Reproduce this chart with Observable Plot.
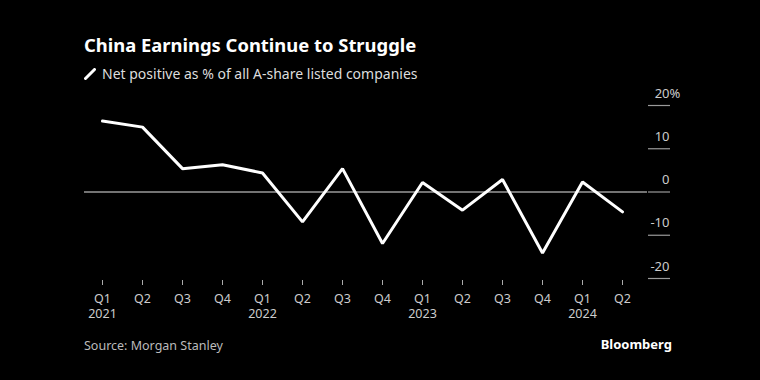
<!DOCTYPE html>
<html>
<head>
<meta charset="utf-8">
<script src="https://cdn.jsdelivr.net/npm/d3@7"></script>
<script src="https://cdn.jsdelivr.net/npm/@observablehq/plot@0.6"></script>
<style>
  html, body { margin: 0; padding: 0; background: #000; width: 760px; height: 380px; overflow: hidden; }
  body { position: relative; font-family: "Noto Sans", "DejaVu Sans", sans-serif; }
  #title { position: absolute; left: 84px; top: 32px; color: #fff; font-weight: 700; font-size: 18.4px; }
  #subtitle { position: absolute; left: 84px; top: 64px; color: #ddd; font-size: 14px; display: flex; align-items: center; }
  #subtitle svg { margin-right: 6px; }
  #chart { position: absolute; left: 0; top: 85px; }
  #source { position: absolute; left: 84px; top: 337px; color: #bbb; font-size: 12.5px; }
  #logo { position: absolute; right: 88px; top: 335px; color: #fff; font-weight: 700; font-size: 13px; }
</style>
</head>
<body>
<div id="title">China Earnings Continue to Struggle</div>
<div id="subtitle"><svg width="12" height="12"><line x1="1.5" y1="10.5" x2="10.5" y2="1.5" stroke="#fff" stroke-width="3" stroke-linecap="round"/></svg>Net positive as % of all A-share listed companies</div>
<div id="chart"></div>
<div id="source">Source: Morgan Stanley</div>
<div id="logo">Bloomberg</div>
<script>
const quarters = ["Q1 2021","Q2 2021","Q3 2021","Q4 2021","Q1 2022","Q2 2022","Q3 2022","Q4 2022","Q1 2023","Q2 2023","Q3 2023","Q4 2023","Q1 2024","Q2 2024"];
const netPositive = [16.4, 15.0, 5.4, 6.3, 4.4, -6.9, 5.4, -11.9, 2.2, -4.2, 2.9, -14.1, 2.3, -4.6];
const yTicks = [-20, -10, 0, 10, 20];
const yTickLabels = ["-20", "-10", "0", "10", "20"];

const data = quarters.map((q, i) => ({q, v: netPositive[i]}));

const chart = Plot.plot({
  width: 760,
  height: 238,
  marginLeft: 84,
  marginRight: 113,
  marginTop: 20,
  marginBottom: 45,
  style: { background: "transparent", fontFamily: "'Noto Sans', 'DejaVu Sans', sans-serif", fontSize: "12.5px" },
  x: { type: "point", domain: quarters, padding: 0, insetLeft: 13, insetRight: 21 },
  y: { domain: [-20, 20] },
  marks: [
    Plot.ruleY([0], { stroke: "#9a9a9a", strokeWidth: 1.5 }),
    Plot.axisY(yTicks, {
      anchor: "right", tickSize: 22, tickFormat: () => "", stroke: "#9a9a9a", strokeWidth: 1.2, label: null
    }),
    Plot.text(yTicks, { y: d => d, text: (d, i) => yTickLabels[i], frameAnchor: "right", dx: 22, dy: -12, textAnchor: "end", fill: "#ccc", fontSize: 13 }),
    Plot.text([20], { y: d => d, text: () => "%", frameAnchor: "right", dx: 22, dy: -12, textAnchor: "start", fill: "#ccc", fontSize: 13 }),
    Plot.axisX({
      tickSize: 5, tickPadding: 6, stroke: "#aaa", fill: "#ccc", label: null, fontSize: 12.5, lineHeight: 1.25, dy: 2,
      tickFormat: d => { const [q, y] = d.split(" "); return q === "Q1" ? q + "\n" + y : q; }
    }),
    Plot.line(data, { x: "q", y: "v", stroke: "#fff", strokeWidth: 3, strokeLinejoin: "miter" })
  ]
});
document.getElementById("chart").appendChild(chart);
</script>
</body>
</html>
